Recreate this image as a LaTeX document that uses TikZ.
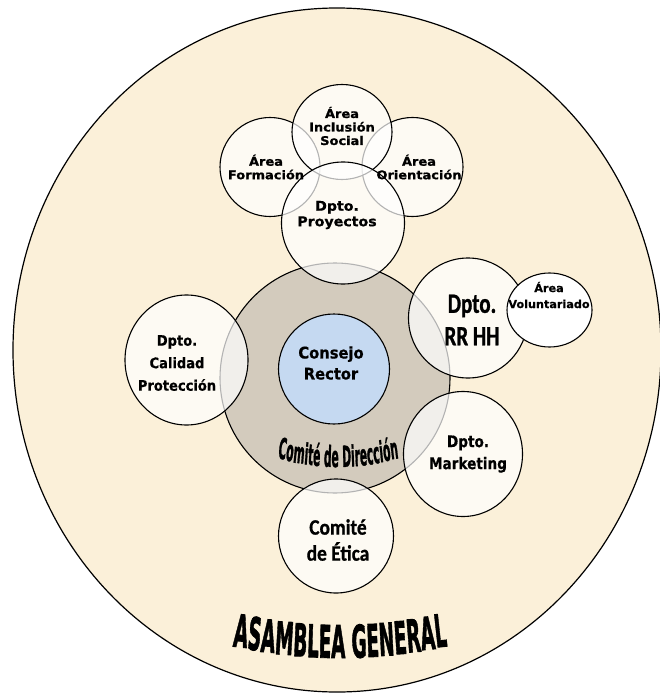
\documentclass[tikz,border=0pt]{standalone}
\usepackage{fontspec}
\usetikzlibrary{shapes.geometric}
\newfontfamily\fArea{DejaVu Sans Bold}[FakeStretch=1.08,FakeBold=0.8]
\newfontfamily\fVol{DejaVu Sans Bold}[FakeStretch=1.02,FakeBold=0.7]
\newfontfamily\fProy{DejaVu Sans Bold}[FakeStretch=1.05,FakeBold=0.7]
\newfontfamily\fCons{DejaVu Sans Bold}[FakeStretch=0.92,FakeBold=0.6]
\newfontfamily\fCal{DejaVu Sans Bold}[FakeStretch=0.9,FakeBold=0.6]
\newfontfamily\fMkt{DejaVu Sans Bold}[FakeStretch=0.85,FakeBold=0.6]
\newfontfamily\fRR{Carlito Bold}[FakeStretch=0.75,FakeBold=1]
\newfontfamily\fEt{Carlito Bold}[FakeStretch=0.88,FakeBold=0.8]
\newfontfamily\fImpA{DejaVu Sans Bold}[FakeBold=2]
\newfontfamily\fImpD{DejaVu Sans Bold}[FakeBold=1.5]
\definecolor{cream}{RGB}{251,240,217}
\definecolor{dirgray}{RGB}{211,203,189}
\definecolor{crblue}{RGB}{197,217,241}
\tikzset{
  ring/.style={ellipse, draw=black, line width=1.1pt, fill=white, fill opacity=0.7, inner sep=0pt},
  lab/.style={align=center, inner sep=0pt, text=black},
  arcletter/.style={anchor=base, inner sep=0pt, text=black},
}
\begin{document}
\begin{tikzpicture}[x=1pt,y=-1pt]
\useasboundingbox (0,0) rectangle (659,695);
\fill[white] (0,0) rectangle (659,695);
% outer
\node[ellipse, draw=black, line width=1.2pt, fill=cream, minimum width=648pt, minimum height=684pt, inner sep=0pt] (asamblea) at (337,350) {};
% comite de direccion
\node[ellipse, draw=black, line width=1.1pt, fill=dirgray, minimum width=230pt, minimum height=230pt, inner sep=0pt] (direccion) at (335,378) {};
\node[ellipse, draw=black, line width=1.1pt, fill=crblue, minimum width=111pt, minimum height=110pt, inner sep=0pt] (consejo) at (334,369) {};
% surrounding circles
\node[ring, minimum width=123pt, minimum height=130pt] (calidad) at (186.5,360) {};
\node[ring, minimum width=119pt, minimum height=120pt] (rrhh) at (468,318) {};
\node[ring, minimum width=119pt, minimum height=125pt] (marketing) at (463,454) {};
\node[ring, minimum width=115pt, minimum height=114pt] (etica) at (336,536) {};
\node[ellipse, draw=black, line width=1.1pt, fill=white, minimum width=85pt, minimum height=74pt, inner sep=0pt] (voluntariado) at (549.5,310) {};
% top cluster
\node[ring, minimum width=100pt, minimum height=99pt] (formacion) at (270,167) {};
\node[ring, minimum width=101pt, minimum height=99pt] (orientacion) at (412.5,167) {};
\node[ring, minimum width=100pt, minimum height=95pt] (inclusion) at (342,132) {};
\node[ring, minimum width=123pt, minimum height=122pt] (proyectos) at (343,223) {};
% labels
\node[lab, font={\fArea\fontsize{12}{13.5}\selectfont}] (tInclusion) at (342,126) {Área\\Inclusión\\Social};
\node[lab, font={\fArea\fontsize{12}{13.5}\selectfont}] (tFormacion) at (266,167) {Área\\Formación};
\node[lab, font={\fArea\fontsize{12}{13.5}\selectfont}] (tOrientacion) at (419,167) {Área\\Orientación};
\node[lab, font={\fProy\fontsize{13.5}{15.5}\selectfont}] (tProyectos) at (337,215) {Dpto.\\Proyectos};
\node[lab, font={\fCons\fontsize{16}{21}\selectfont}] (tConsejo) at (331,363) {Consejo\\Rector};
\node[lab, font={\fCal\fontsize{14.5}{22.5}\selectfont}] (tCalidad) at (177,363) {Dpto.\\Calidad\\Protección};
\node[lab, font={\fRR\fontsize{28}{32.5}\selectfont}] (tRRHH) at (472,320) {Dpto.\\RR HH};
\node[lab, font={\fVol\fontsize{11}{16}\selectfont}] (tVol) at (549,295) {Área\\Voluntariado};
\node[lab, font={\fMkt\fontsize{16}{22}\selectfont}] (tMarketing) at (468,454) {Dpto.\\Marketing};
\node[lab, font={\fEt\fontsize{22}{26}\selectfont}] (tEtica) at (338,540) {Comité\\de Ética};
% arched text: Comite de Direccion
\xdef\cumD{0}
\foreach \ch/\w/\pp [count=\i] in {C/.734/0,o/.687/0,m/1.042/0,i/.343/0,t/.478/0,é/.678/0,d/.716/.348,e/.678/0,D/.83/.348,i/.343/0,r/.493/0,e/.678/0,c/.593/0,c/.593/0,i/.343/0,ó/.687/0,n/.712/0}{
  \pgfmathsetmacro\xc{277.5+(\cumD+\pp+\w/2)*10.73}
  \pgfmathsetmacro\yb{467-9*((\xc-338)/60)^2}
  \pgfmathsetmacro\myang{0.45*atan(18*(\xc-338)/3600)}
  \node[arcletter, rotate=\myang, xscale=0.37, font={\fImpD\fontsize{29}{29}\selectfont}] (dir\i) at (\xc,\yb) {\ch};
  \pgfmathsetmacro\mync{\cumD+\pp+\w}
  \xdef\cumD{\mync}
}
% arched text: ASAMBLEA GENERAL
\xdef\cumA{0}
\foreach \ch/\w/\pp [count=\i] in {A/.774/0,S/.72/0,A/.774/0,M/.995/0,B/.762/0,L/.637/0,E/.683/0,A/.774/0,G/.821/.348,E/.683/0,N/.837/0,E/.683/0,R/.77/0,A/.774/0,L/.637/0}{
  \pgfmathsetmacro\xc{232.5+(\cumA+\pp+\w/2)*18.45}
  \pgfmathsetmacro\yb{658-13*((\xc-340)/110)^2}
  \pgfmathsetmacro\myang{0.5*atan(26*(\xc-340)/12100)}
  \node[arcletter, rotate=\myang, xscale=0.41, font={\fImpA\fontsize{45}{45}\selectfont}] (as\i) at (\xc,\yb) {\ch};
  \pgfmathsetmacro\mync{\cumA+\pp+\w}
  \xdef\cumA{\mync}
}
\end{tikzpicture}
\end{document}
